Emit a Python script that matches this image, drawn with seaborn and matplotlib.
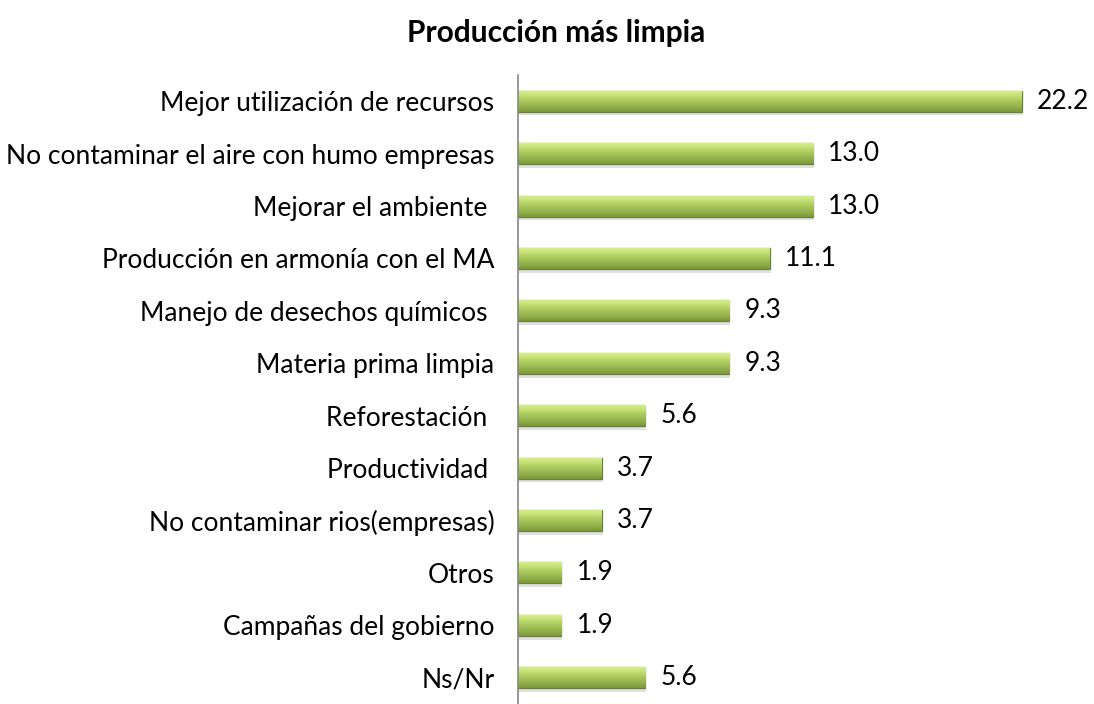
import numpy as np
import pandas as pd
import matplotlib
matplotlib.use("Agg")
import matplotlib.pyplot as plt
import seaborn as sns
from matplotlib.colors import LinearSegmentedColormap

# ---- data ----
categorias = ["Mejor utilización de recursos",
              "No contaminar el aire con humo empresas",
              "Mejorar el ambiente ",
              "Producción en armonía con el MA",
              "Manejo de desechos químicos ",
              "Materia prima limpia",
              "Reforestación ",
              "Productividad ",
              "No contaminar rios(empresas)",
              "Otros",
              "Campañas del gobierno",
              "Ns/Nr"]
porcentajes = [22.2, 13.0, 13.0, 11.1, 9.3, 9.3, 5.6, 3.7, 3.7, 1.9, 1.9, 5.6]
titulo = "Producción más limpia"

df = pd.DataFrame({"categoria": categorias, "valor": porcentajes})

sns.set_style("white")
plt.rcParams["font.family"] = ["Lato", "DejaVu Sans"]

fig = plt.figure(figsize=(10.94, 7.04), dpi=100)
ax = fig.add_axes([0.4735, 0.0, 0.50, 0.8935])

sns.barplot(data=df, x="valor", y="categoria", orient="h", color="#9bbb59",
            width=0.40, edgecolor="#66832a", linewidth=0.9, ax=ax)

# green gradient inside each bar (light top, darker bottom)
grad = LinearSegmentedColormap.from_list(
    "g", ["#d6ee8e", "#c6e177", "#b0ce62", "#9ebd54", "#8fad48", "#7a9739"])
img = np.linspace(0, 1, 64).reshape(-1, 1)
for p in ax.patches:
    x0, y0 = p.get_x(), p.get_y()
    w, h = p.get_width(), p.get_height()
    im = ax.imshow(img, cmap=grad, aspect="auto", origin="upper",
                   extent=(x0, x0 + w, y0 + h, y0), zorder=p.get_zorder() + 0.1,
                   interpolation="bicubic")
    im.set_clip_path(p)
    # soft shadow under the bar
    ax.add_patch(plt.Rectangle((x0 + 0.05, y0 + h), w, h * 0.18, color="#000000",
                               alpha=0.12, lw=0, zorder=p.get_zorder() - 0.1))

ax.bar_label(ax.containers[0], fmt="%.1f", padding=11, fontsize=19, color="#000000")

ax.set_xlim(0, 24.1)
ax.set_ylim(11.5, -0.5)
ax.set_xlabel("")
ax.set_ylabel("")
ax.set_xticks([])
ax.tick_params(axis="y", length=0, pad=17, labelsize=19, labelcolor="#000000")
for s in ["top", "right", "bottom"]:
    ax.spines[s].set_visible(False)
ax.spines["left"].set_color("#868686")
ax.spines["left"].set_linewidth(1.2)

fig.text(0.508, 0.953, titulo, ha="center", va="center", fontsize=21.5,
         fontweight="bold", color="#000000")

fig.savefig("out.png", dpi=100)
